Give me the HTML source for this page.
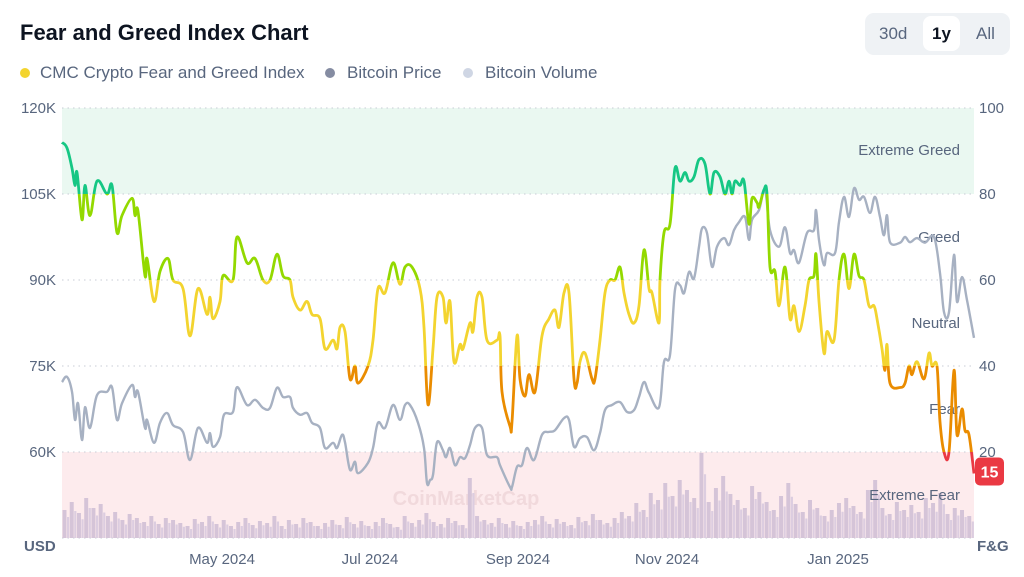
<!DOCTYPE html>
<html><head><meta charset="utf-8">
<style>
body{margin:0;width:1024px;height:577px;background:#fff;font-family:"Liberation Sans",sans-serif;overflow:hidden;position:relative}
.t{position:absolute;white-space:nowrap}
</style></head><body>
<div class="t" style="left:20px;top:20px;font-size:22px;font-weight:bold;color:#0d1421">Fear and Greed Index Chart</div>
<div style="position:absolute;left:865px;top:13px;width:145px;height:42px;background:#eff2f5;border-radius:9px"></div>
<div class="t" style="left:879px;top:24px;font-size:17px;color:#58667e">30d</div>
<div style="position:absolute;left:923px;top:16px;width:37px;height:35px;background:#fff;border-radius:8px;font-size:17px;font-weight:bold;color:#0d1421;text-align:center;line-height:35px">1y</div>
<div class="t" style="left:976px;top:24px;font-size:17px;color:#58667e">All</div>
<div style="position:absolute;left:20px;top:63px;font-size:17px;color:#58667e">
<span style="position:absolute;left:0;white-space:nowrap"><span style="display:inline-block;width:10px;height:10px;border-radius:50%;background:#f3d42f;margin-right:10px"></span>CMC Crypto Fear and Greed Index</span>
<span style="position:absolute;left:305px;white-space:nowrap"><span style="display:inline-block;width:10px;height:10px;border-radius:50%;background:#858ca2;margin-right:12px"></span>Bitcoin Price</span>
<span style="position:absolute;left:443px;white-space:nowrap"><span style="display:inline-block;width:10px;height:10px;border-radius:50%;background:#cfd6e4;margin-right:12px"></span>Bitcoin Volume</span>
</div>
<svg id="chart" width="1024" height="577" style="position:absolute;left:0;top:0" font-family="Liberation Sans, sans-serif"></svg>
<script>
const fgDays=[0,2,4,5.2,6,8,9.2,11.2,14,18,20,22,24,28,29.2,30.4,33.2,34,36.8,39.2,42.4,44.4,48.4,51.2,54.4,58,59.2,60.4,63.2,64.4,68.4,70,74,77.2,80.4,83.2,86,88.4,91.2,92.4,95.2,98,100,103.2,105.2,108.4,110,111.2,113.2,115.2,117.2,118.4,122.4,124.4,126.4,129.2,132.4,135.2,137.2,140,143.2,144.8,146.4,148.4,150,152.4,153.6,155.2,156.8,159.2,160.4,163.2,164.4,166,168,170,174,175.2,176,179.2,180,182,183.2,185.2,186.8,189.2,192,194.8,197.2,198.8,200.8,202.8,204.8,206,207.2,209.2,212,213.2,215.2,217.2,219.2,221.2,223.2,224.8,226.8,228.8,230.8,232.8,234.8,236,238.8,239.2,240.8,243.2,245.2,247.2,249.2,250.8,252.8,254.8,257.2,259.2,260.8,263.2,265.2,266.8,268,269.2,271.2,272.8,274.8,276,278,278.8,280.8,282,283.2,285.2,286.8,289.2,291.2,292.8,294.8,297.2,298.8,300.8,301.6,302.8,304.8,306,308.8,310.8,312.8,314.8,316.8,318.8,320.8,322.8,324.8,326,328,329.2,330,331.2,335.2,337.2,338.8,340,342,344.8,346.8,348,350,351.2,352.8,354.8,356.8,358,360,361.2,362.8,364.8];
const fgValues=[92,90.7,86,82,85,74,82,75,83,80,82,71,75,79,75,76,61,65,55,62,65,60,58,47,58,52,56,51,55,61,60,70,64,65,60,60,66,61,60,56,53,55,52,51,44,46,44,49,48,37,40,36,40,46,58,57,64,59,63,63,58,49,31,44,56,56,50,55,41,45,44,50,48,56,56,46,46,47,34,26,27,47,37,33,38,34,47,51,53,49,57,57,37,36,41,43,37,37,46,57,60,60,63,57,52,50,54,67,58,57,50,60,71,73,86,83,85,83,84,88,87,80,85,84,80,83,80,83,82,83,73,79,78,77,81,80,63,62,54,63,51,54,48,54,60,61,66,55,43,48,46,60,66,58,66,61,60,54,54,51,44,39,45,36,35,36,40,38,41,37,43,40,40,27,20,20,39,24,30,25,24,15];
const priceDays=[0,2,4,5.2,6.4,8,9.2,11.2,14,18,20,22,24,28,29.2,30.4,33.2,34,36.8,39.2,42,44.4,48.4,51.2,54.4,58,59.2,60.4,63.2,64.8,68.4,70,74,77.2,80.4,83.2,86,88.4,91.2,92.4,95.2,98,100,103.2,105.2,108.4,110,112,113.2,115.2,117.2,118.4,122.4,124.4,126.4,129.2,132.4,135.2,137.2,139.2,142.4,144.8,146,147.2,148.4,150,152.4,153.6,155.2,157.2,159.2,161.2,163.2,165.2,168,170,174,175.2,179.2,180,182,184,186,188.8,192,194.8,197.2,200.8,202.8,204.8,207.2,210,212.8,215.2,217.2,220,223.2,226,228.8,230.8,232.8,234.8,238.8,240.8,243.2,245.2,247.2,248.8,250.8,252.8,254.8,256,258,260,262,264.8,266.8,268.8,270.8,273.2,274.8,276,278.8,281.2,283.2,286.8,289.2,291.2,292.8,294.8,298,300.8,301.6,302.8,304.8,306,309.2,310.8,312.8,314.8,316.8,318.8,320.8,323.2,325.2,327.2,328.8,330,331.2,335.2,337.2,339.2,342,345.2,348.8,351.2,352.8,354.8,356.8,358,360,362,364.8];
const priceValues=[72.2,73.1,70.5,65.6,68.5,62.1,67.8,64.2,69.9,70.5,71.3,65.6,68.5,71.7,69.6,70.5,64.2,65.6,61.6,65.1,66.8,64.7,63.5,58.6,64.2,61.6,63.3,60.9,62.6,66.5,67,71.3,68.2,69.1,67.7,67.7,71.2,69.6,69.6,67.7,66.5,66.8,65.1,64.2,60.7,61.6,60.7,63,61.7,56.9,58.3,56.3,58.1,60.7,65.1,64.2,68.2,65.6,68.2,68.2,65.1,60.7,54.6,55.1,56,61.7,60.3,59.1,60.7,57.7,59.1,58.9,61.2,64.2,64.2,59.5,59.1,57.7,53.9,53.9,57.4,57.7,60.7,58.6,63,63.5,63.8,65.9,65.6,60.9,62.4,62.6,60.3,63.3,67.3,68.2,68.7,67,67.3,69.6,72.2,70.3,67.8,75.7,76.9,88.3,89.1,87.7,91.4,90.3,95.8,99,98.2,92.3,95.8,97.3,96.1,98.7,100.1,101,97,100.5,102.2,105.7,98.7,95.8,99.2,94.7,95.2,93,98.2,98.7,102.2,97,92.6,94.7,94.7,100.1,104.5,101,106,104,104.5,101.7,104.5,101,97.8,101.3,96.6,96.5,97.5,96.6,97.3,96.5,97.5,91.2,84.4,84.4,94.4,86.2,90.5,86.5,79.9];
const volumeValues=[28,36,25,40,30,34,22,26,18,24,20,16,22,14,20,18,15,12,19,16,22,14,18,12,16,20,13,17,15,22,12,18,14,20,16,12,15,18,13,21,14,17,12,16,20,14,11,22,15,18,25,16,14,20,17,13,60,22,18,15,20,14,17,12,16,18,22,14,19,16,13,21,17,24,18,15,20,26,22,35,28,45,38,55,42,58,48,40,85,36,50,62,44,38,30,52,46,36,28,42,55,34,26,38,30,22,28,35,40,32,26,48,58,30,24,36,28,33,26,40,35,45,24,30,28,22];
const priceTicks=[120,105,90,75,60];
const fgTicks=[100,80,60,40,20];
const monthLabels=['May 2024','Jul 2024','Sep 2024','Nov 2024','Jan 2025'];
const monthDays=[64,123.2,182.4,242,310.4];
const zoneNames=['Extreme Greed','Greed','Neutral','Fear','Extreme Fear'];
const zoneMids=[90,70,50,30,10];
const currentFG=15;

const NS='http://www.w3.org/2000/svg';
const svg=document.getElementById('chart');
const L=62,R=974,T=108,B=538,D0=0,D1=364.8;
const xS=d=>L+(d-D0)/(D1-D0)*(R-L);
const yF=v=>B-v/100*(B-T);
const yP=v=>B-(v-45)/75*(B-T);
function mk(tag,attrs,parent){const e=document.createElementNS(NS,tag);for(const k in attrs)e.setAttribute(k,attrs[k]);(parent||svg).appendChild(e);return e;}
function smooth(pts){
  let d='M'+pts[0][0].toFixed(1)+','+pts[0][1].toFixed(1);
  const k=0.18;
  for(let i=0;i<pts.length-1;i++){
    const p0=pts[i-1]||pts[i],p1=pts[i],p2=pts[i+1],p3=pts[i+2]||p2;
    const c1x=p1[0]+(p2[0]-p0[0])*k,c1y=p1[1]+(p2[1]-p0[1])*k;
    const c2x=p2[0]-(p3[0]-p1[0])*k,c2y=p2[1]-(p3[1]-p1[1])*k;
    d+='C'+c1x.toFixed(1)+','+c1y.toFixed(1)+' '+c2x.toFixed(1)+','+c2y.toFixed(1)+' '+p2[0].toFixed(1)+','+p2[1].toFixed(1);
  }
  return d;
}

let g=mk('rect',{x:L,y:yF(100),width:R-L,height:yF(80)-yF(100),fill:'#eaf8f1'});


g=mk('rect',{x:L,y:yF(20),width:R-L,height:yF(0)-yF(20),fill:'#fdebed'});



for(let i=0;i<=5;i++){
  const v=100-i*20;
  const gl=mk('line',{x1:L,x2:R,y1:yF(v),y2:yF(v),stroke:'#c8cdd6','stroke-width':1,'stroke-dasharray':'1.5 4'});
  
  
}
priceTicks.forEach(p=>{
  const t=mk('text',{x:56,y:yP(p)+5,'text-anchor':'end','font-size':15,fill:'#58667e'});t.textContent=p+'K';
  
  
});
fgTicks.forEach(v=>{
  const t=mk('text',{x:979,y:yF(v)+5,'font-size':15,fill:'#58667e'});t.textContent=v;
  
  
});
monthLabels.forEach((m,i)=>{
  const t=mk('text',{x:xS(monthDays[i]),y:564,'text-anchor':'middle','font-size':15,fill:'#58667e'});t.textContent=m;
  
  
});
let t=mk('text',{x:24,y:551,'font-size':15,'font-weight':'bold',fill:'#58667e'});t.textContent='USD';


t=mk('text',{x:977,y:551,'font-size':15,'font-weight':'bold',fill:'#58667e'});t.textContent='F&G';



t=mk('text',{x:466,y:505,'text-anchor':'middle','font-size':20,'font-weight':'bold',fill:'#f1d9dc'});t.textContent='CoinMarketCap';



const vStep=(D1-D0)/volumeValues.length;
const vw=(R-L)/volumeValues.length;
volumeValues.forEach((v,i)=>{
  const x=xS(D0+i*vStep);
  const b=mk('rect',{x:x+0.5,y:B-v,width:vw*0.55,height:v,fill:'#d5c4d8'});
  
  
  const b2=mk('rect',{x:x+vw*0.55+1,y:B-v*0.75,width:vw*0.3,height:v*0.75,fill:'#dccde0'});
  
  
});

zoneNames.forEach((z,i)=>{
  const tt=mk('text',{x:960,y:yF(zoneMids[i])+5+(i==0?-1:0),'text-anchor':'end','font-size':15,fill:'#58667e'});tt.textContent=z;
  
  
});

const pPts=priceDays.map((d,i)=>[xS(d),yP(priceValues[i])]);
const pl=mk('path',{d:smooth(pPts),fill:'none',stroke:'#a7b1c2','stroke-width':2.4,'stroke-linejoin':'round'});



const defs=mk('defs',{});
const zones=[[80,100,'#16c784'],[60,80,'#93d900'],[40,60,'#f3d42f'],[20,40,'#ea8c00'],[0,20,'#ea3943']];
const fgPath=smooth(fgDays.map((d,i)=>[xS(d),yF(fgValues[i])]));
zones.forEach((z,i)=>{
  const cp=mk('clipPath',{id:'cz'+i},defs);
  mk('rect',{x:0,y:yF(z[1])-(i==0?20:0),width:1024,height:yF(z[0])-yF(z[1])+(i==0?20:0)+(i==4?20:0)},cp);
  const ln=mk('path',{d:fgPath,fill:'none',stroke:z[2],'stroke-width':2.8,'stroke-linejoin':'round','clip-path':'url(#cz'+i+')'});
  
  
});

const by=yF(currentFG);
const br=mk('rect',{x:975,y:by-16,width:29,height:28,rx:5,fill:'#ea3943'});


t=mk('text',{x:989.5,y:by+4,'text-anchor':'middle','font-size':16,'font-weight':'bold',fill:'#fff'});t.textContent=currentFG;


</script>
</body></html>
